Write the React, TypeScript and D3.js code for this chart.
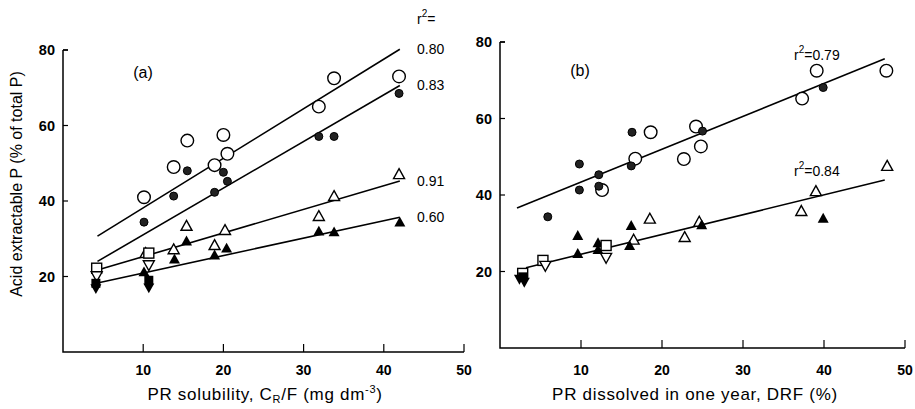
import React from "react";
import * as d3 from "d3";

// ---------- Panel (a) data ----------
const aOpenCircleX = [10.1, 13.8, 15.5, 18.9, 20, 20.5, 31.9, 33.8, 41.9];
const aOpenCircleY = [41, 49, 56, 49.5, 57.5, 52.5, 65, 72.5, 73];
const aFilledCircleX = [10.1, 13.8, 15.5, 18.9, 20, 20.5, 31.9, 33.8, 41.9];
const aFilledCircleY = [34.4, 41.3, 48, 42.3, 47.6, 45.2, 57.1, 57.1, 68.5];
const aOpenTriX = [10.3, 13.8, 15.4, 18.9, 20.2, 31.9, 33.8, 41.9];
const aOpenTriY = [26.2, 27.2, 33.4, 28.3, 32.3, 36, 41.3, 47.1];
const aFilledTriX = [10.1, 13.9, 15.4, 18.9, 20.4, 31.9, 33.8, 42];
const aFilledTriY = [21.2, 24.6, 29.4, 25.7, 27.5, 32, 31.8, 34.4];
const aOpenSquareX = [4.2, 10.7];
const aOpenSquareY = [22.2, 26.2];
const aOpenDownTriX = [4.2, 10.7];
const aOpenDownTriY = [20.1, 23];
const aFilledSquareX = [4.1, 10.7];
const aFilledSquareY = [18.2, 19];
const aFilledDownTriX = [4.1, 10.7];
const aFilledDownTriY = [16.8, 17];
const aLineX = [4.3, 42];
const aLine1Y = [30.7, 80.2];
const aLine2Y = [24, 70.6];
const aLine3Y = [21.7, 45.3];
const aLine4Y = [18.3, 35.7];
const aR2Labels = ["0.80", "0.83", "0.91", "0.60"];

// ---------- Panel (b) data ----------
const bOpenCircleX = [12.6, 16.7, 18.6, 22.7, 24.2, 24.8, 37.3, 39.1, 47.7];
const bOpenCircleY = [41.3, 49.5, 56.4, 49.4, 57.9, 52.7, 65.2, 72.5, 72.5];
const bFilledCircleX = [5.9, 9.8, 9.8, 12.2, 12.2, 16.2, 16.3, 25, 39.9];
const bFilledCircleY = [34.3, 41.3, 48.1, 42.3, 45.3, 47.6, 56.4, 56.7, 68.1];
const bOpenTriX = [16.5, 18.5, 22.8, 24.6, 37.2, 39, 47.8];
const bOpenTriY = [28.3, 33.8, 29, 33, 35.8, 41, 47.6];
const bFilledTriX = [9.6, 9.6, 12.1, 12.1, 16, 16.2, 24.9, 39.9];
const bFilledTriY = [29.4, 24.7, 27.5, 25.7, 26.8, 32, 32.2, 33.9];
const bOpenSquareX = [5.3, 13.1, 2.8];
const bOpenSquareY = [22.9, 26.8, 19.5];
const bOpenDownTriX = [5.6, 13.1];
const bOpenDownTriY = [21.5, 23.6];
const bFilledSquareX = [2.8];
const bFilledSquareY = [18.6];
const bFilledDownTriX = [2.4, 3];
const bFilledDownTriY = [18.0, 17.2];
const bUpperLineX = [2.1, 47.5];
const bUpperLineY = [36.6, 75.6];
const bLowerLineX = [3.2, 47.5];
const bLowerLineY = [21, 43.9];
const bR2Upper = "0.79";
const bR2Lower = "0.84";

const xTicks = [10, 20, 30, 40, 50];
const yTicks = [20, 40, 60, 80];

const FONT = "'Liberation Sans', Arial, sans-serif";

type Scale = d3.ScaleLinear<number, number>;

function zip(xs: number[], ys: number[]) {
  return xs.map((x, i) => [x, ys[i]] as [number, number]);
}

function Marker({ kind, cx, cy }: { kind: string; cx: number; cy: number }) {
  const s = 5.5;
  switch (kind) {
    case "openCircle":
      return <circle cx={cx} cy={cy} r={6.3} fill="white" stroke="black" strokeWidth={1.4} />;
    case "filledCircle":
      return <circle cx={cx} cy={cy} r={4} fill="#222" stroke="black" strokeWidth={1} />;
    case "openTri":
      return (
        <path
          d={`M${cx},${cy - s}L${cx + s},${cy + s * 0.8}L${cx - s},${cy + s * 0.8}Z`}
          fill="white"
          stroke="black"
          strokeWidth={1.4}
        />
      );
    case "filledTri":
      return (
        <path
          d={`M${cx},${cy - s}L${cx + s},${cy + s * 0.8}L${cx - s},${cy + s * 0.8}Z`}
          fill="black"
        />
      );
    case "openDownTri":
      return (
        <path
          d={`M${cx},${cy + s}L${cx + s},${cy - s * 0.8}L${cx - s},${cy - s * 0.8}Z`}
          fill="white"
          stroke="black"
          strokeWidth={1.4}
        />
      );
    case "filledDownTri":
      return (
        <path
          d={`M${cx},${cy + s}L${cx + s},${cy - s * 0.8}L${cx - s},${cy - s * 0.8}Z`}
          fill="black"
        />
      );
    case "openSquare":
      return (
        <rect x={cx - 5} y={cy - 5} width={10} height={10} fill="white" stroke="black" strokeWidth={1.4} />
      );
    case "filledSquare":
      return <rect x={cx - 4.5} y={cy - 4.5} width={9} height={9} fill="black" />;
    default:
      return null;
  }
}

function Series({ x, y, xs, ys, kind }: { x: Scale; y: Scale; xs: number[]; ys: number[]; kind: string }) {
  return (
    <g>
      {zip(xs, ys).map(([a, b], i) => (
        <Marker key={i} kind={kind} cx={x(a)} cy={y(b)} />
      ))}
    </g>
  );
}

function FitLine({ x, y, xs, ys }: { x: Scale; y: Scale; xs: number[]; ys: number[] }) {
  const line = d3
    .line<[number, number]>()
    .x((d) => x(d[0]))
    .y((d) => y(d[1]));
  return <path d={line(zip(xs, ys)) || ""} fill="none" stroke="black" strokeWidth={1.6} />;
}

function Axes({ x, y }: { x: Scale; y: Scale }) {
  const [x0, x1] = x.range();
  const [y0, y1] = y.range();
  return (
    <g>
      <path d={`M${x0},${y1}H${x0 + 5}M${x0},${y1}V${y0}H${x1}`} fill="none" stroke="black" strokeWidth={1.5} />
      {yTicks.map((t) => (
        <g key={t}>
          <line x1={x0} x2={x0 + 5} y1={y(t)} y2={y(t)} stroke="black" strokeWidth={1.2} />
          <text x={x0 - 8} y={y(t)} dy="0.36em" textAnchor="end" fontSize={14.5} fontFamily={FONT} fontWeight={600}>
            {t}
          </text>
        </g>
      ))}
      {xTicks.map((t) => (
        <g key={t}>
          <line x1={x(t)} x2={x(t)} y1={y0} y2={y0 - 8} stroke="black" strokeWidth={1.2} />
          <text x={x(t)} y={375} textAnchor="middle" fontSize={14} fontFamily={FONT} fontWeight={600}>
            {t}
          </text>
        </g>
      ))}
    </g>
  );
}

export default function App() {
  const xa = d3.scaleLinear().domain([0, 50]).range([63, 464]);
  const ya = d3.scaleLinear().domain([0, 80]).range([352, 50]);
  const xb = d3.scaleLinear().domain([0, 50]).range([500, 905]);
  const yb = d3.scaleLinear().domain([0, 80]).range([348, 42]);

  const aLines = [aLine1Y, aLine2Y, aLine3Y, aLine4Y];

  return (
    <svg width={915} height={409} style={{ position: "absolute", left: 0, top: 0, background: "white" }}>
      <rect x={0} y={0} width={915} height={409} fill="white" />
      {/* Panel (a) */}
      <Axes x={xa} y={ya} />
      {aLines.map((ly, i) => (
        <FitLine key={i} x={xa} y={ya} xs={aLineX} ys={ly} />
      ))}
      <Series x={xa} y={ya} xs={aOpenCircleX} ys={aOpenCircleY} kind="openCircle" />
      <Series x={xa} y={ya} xs={aFilledCircleX} ys={aFilledCircleY} kind="filledCircle" />
      <Series x={xa} y={ya} xs={aOpenTriX} ys={aOpenTriY} kind="openTri" />
      <Series x={xa} y={ya} xs={aFilledTriX} ys={aFilledTriY} kind="filledTri" />
      <Series x={xa} y={ya} xs={aOpenSquareX} ys={aOpenSquareY} kind="openSquare" />
      <Series x={xa} y={ya} xs={aOpenDownTriX} ys={aOpenDownTriY} kind="openDownTri" />
      <Series x={xa} y={ya} xs={aFilledSquareX} ys={aFilledSquareY} kind="filledSquare" />
      <Series x={xa} y={ya} xs={aFilledDownTriX} ys={aFilledDownTriY} kind="filledDownTri" />
      <text x={143} y={72} dy="0.35em" textAnchor="middle" fontSize={16} fontFamily={FONT}>
        (a)
      </text>
      <text x={417} y={24} fontSize={14} fontFamily={FONT}>
        r<tspan dy={-7} fontSize={10}>2</tspan>
        <tspan dy={7}>=</tspan>
      </text>
      {aR2Labels.map((lab, i) => (
        <text key={lab + i} x={417} y={ya(aLines[i][1])} dy="0.35em" fontSize={14} fontFamily={FONT}>
          {lab}
        </text>
      ))}
      <text
        transform={`translate(22,184) rotate(-90)`}
        textAnchor="middle"
        fontSize={16}
        fontFamily={FONT}
      >
        Acid extractable P (% of total P)
      </text>
      <text x={265} y={400} textAnchor="middle" fontSize={17} letterSpacing={0.7} fontFamily={FONT}>
        PR solubility, C<tspan dy={3} fontSize={11}>R</tspan>
        <tspan dy={-3}>/F (mg dm</tspan>
        <tspan dy={-7} fontSize={11}>-3</tspan>
        <tspan dy={7}>)</tspan>
      </text>

      {/* Panel (b) */}
      <Axes x={xb} y={yb} />
      <FitLine x={xb} y={yb} xs={bUpperLineX} ys={bUpperLineY} />
      <FitLine x={xb} y={yb} xs={bLowerLineX} ys={bLowerLineY} />
      <Series x={xb} y={yb} xs={bOpenCircleX} ys={bOpenCircleY} kind="openCircle" />
      <Series x={xb} y={yb} xs={bFilledCircleX} ys={bFilledCircleY} kind="filledCircle" />
      <Series x={xb} y={yb} xs={bOpenTriX} ys={bOpenTriY} kind="openTri" />
      <Series x={xb} y={yb} xs={bFilledTriX} ys={bFilledTriY} kind="filledTri" />
      <Series x={xb} y={yb} xs={bOpenSquareX} ys={bOpenSquareY} kind="openSquare" />
      <Series x={xb} y={yb} xs={bOpenDownTriX} ys={bOpenDownTriY} kind="openDownTri" />
      <Series x={xb} y={yb} xs={bFilledSquareX} ys={bFilledSquareY} kind="filledSquare" />
      <Series x={xb} y={yb} xs={bFilledDownTriX} ys={bFilledDownTriY} kind="filledDownTri" />
      <text x={580} y={70} dy="0.35em" textAnchor="middle" fontSize={16} fontFamily={FONT}>
        (b)
      </text>
      <text x={xb(36.3)} y={yb(76.6)} dy="0.35em" fontSize={14} fontFamily={FONT}>
        r<tspan dy={-7} fontSize={10}>2</tspan>
        <tspan dy={7}>={bR2Upper}</tspan>
      </text>
      <text x={xb(36.3)} y={yb(46.2)} dy="0.35em" fontSize={14} fontFamily={FONT}>
        r<tspan dy={-7} fontSize={10}>2</tspan>
        <tspan dy={7}>={bR2Lower}</tspan>
      </text>
      <text x={695} y={400} textAnchor="middle" fontSize={17} letterSpacing={0.7} fontFamily={FONT}>
        PR dissolved in one year, DRF (%)
      </text>
    </svg>
  );
}
